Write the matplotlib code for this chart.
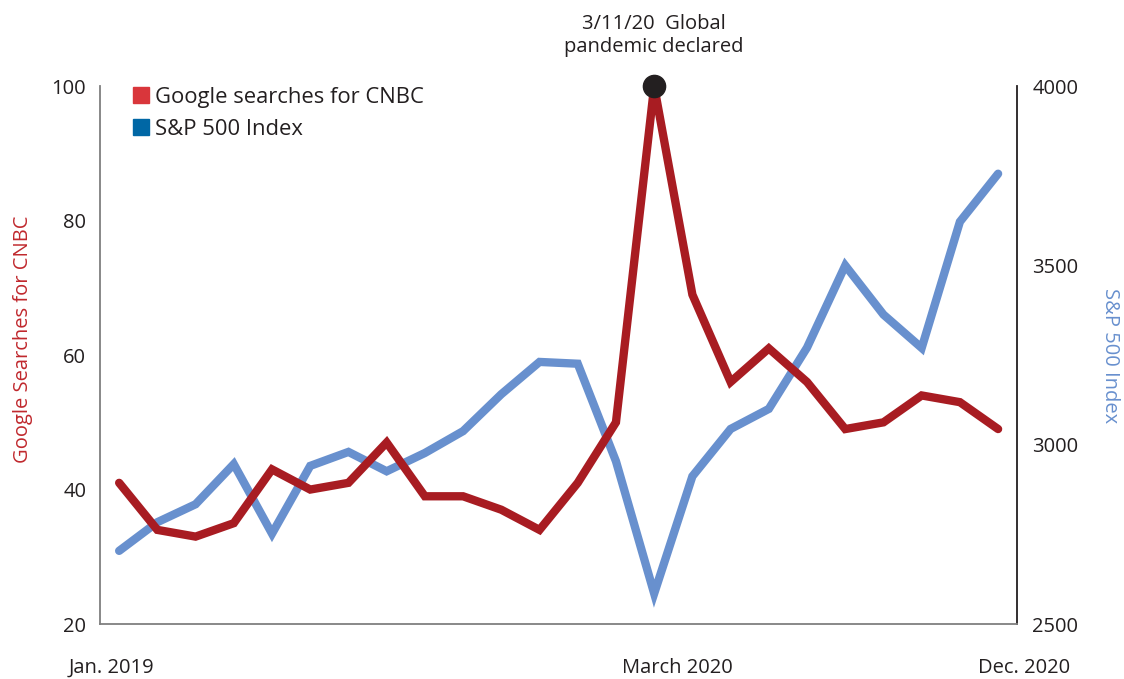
import numpy as np
import matplotlib.pyplot as plt
from matplotlib.lines import Line2D

plt.rcParams['font.family'] = ['Open Sans', 'DejaVu Sans']

# monthly data, Jan 2019 - Dec 2020
months = np.arange(24)
cnbc_searches = [41, 34, 33, 35, 43, 40, 41, 47, 39, 39, 37, 34,
                 41, 50, 100, 69, 56, 61, 56, 49, 50, 54, 53, 49]
sp500 = [2704, 2784, 2834, 2946, 2752, 2941, 2980, 2926, 2977, 3038, 3141, 3231,
         3226, 2954, 2585, 2912, 3044, 3100, 3271, 3500, 3363, 3270, 3622, 3756]
tick_pos = [-0.19, 14.6, 23.69]
tick_labels = ["Jan. 2019", "March 2020", "Dec. 2020"]

red = "#A81C22"
blue = "#6890CE"
text_col = "#231F20"
fs = 14.5

fig = plt.figure(figsize=(11.24, 6.79), dpi=100)
ax = fig.add_axes([0.089, 0.081, 0.816, 0.792])
ax2 = ax.twinx()

ax2.plot(months, sp500, color=blue, lw=6, solid_joinstyle="miter", solid_capstyle="round")
ax.plot(months, cnbc_searches, color=red, lw=6, solid_joinstyle="miter", solid_capstyle="round", zorder=3)
ax.set_zorder(ax2.get_zorder() + 1)
ax.patch.set_visible(False)

# pandemic marker
ax.plot(14, cnbc_searches[14], "o", color=text_col, ms=16, zorder=5, clip_on=False)
ax.annotate("3/11/20  Global\npandemic declared", xy=(14, 100), xytext=(0, 21),
            textcoords="offset points", ha="center", va="bottom", fontsize=fs,
            color=text_col, linespacing=1.2)

ax.set_xlim(-0.5, 23.5)
ax.set_ylim(20, 100)
ax2.set_ylim(2500, 4000)
ax.set_yticks([20, 40, 60, 80, 100])
ax2.set_yticks([2500, 3000, 3500, 4000])
ax.set_xticks([])

# x labels sit slightly off the month positions in the original
for xp, lab in zip(tick_pos, tick_labels):
    ax.text(xp, -0.082, lab, transform=ax.get_xaxis_transform(), ha="center",
            va="center", fontsize=fs, color=text_col)

ax.tick_params(axis="y", length=0, pad=10, labelsize=fs, colors=text_col)
ax2.tick_params(axis="y", length=0, pad=11, labelsize=fs, colors=text_col)

for a in (ax, ax2):
    a.spines["top"].set_visible(False)
    a.spines["left"].set_color("#7f7f7f")
    a.spines["bottom"].set_color("#7f7f7f")
    a.spines["right"].set_color(text_col)
    a.spines["left"].set_linewidth(1.3)
    a.spines["bottom"].set_linewidth(1.3)
    a.spines["right"].set_linewidth(1.3)
ax.spines["right"].set_visible(False)
ax2.spines["left"].set_visible(False)
ax2.spines["bottom"].set_visible(False)

ax.set_ylabel("Google Searches for CNBC", color="#C0282D", fontsize=fs)
ax.yaxis.set_label_coords(-0.073, 0.53)
ax2.set_ylabel("S&P 500 Index", color=blue, fontsize=fs, rotation=-90, labelpad=30)

handles = [Line2D([], [], ls="none", marker="s", ms=11, color="#D9363B"),
           Line2D([], [], ls="none", marker="s", ms=11, color="#0067A5")]
leg = ax.legend(handles, ["Google searches for CNBC", "S&P 500 Index"],
                loc="upper left", bbox_to_anchor=(0.017, 1.036), frameon=False,
                fontsize=15.8, handlelength=0.55, handletextpad=0.35, labelspacing=0.5)
for t in leg.get_texts():
    t.set_color(text_col)

fig.savefig("out.png", dpi=100)
